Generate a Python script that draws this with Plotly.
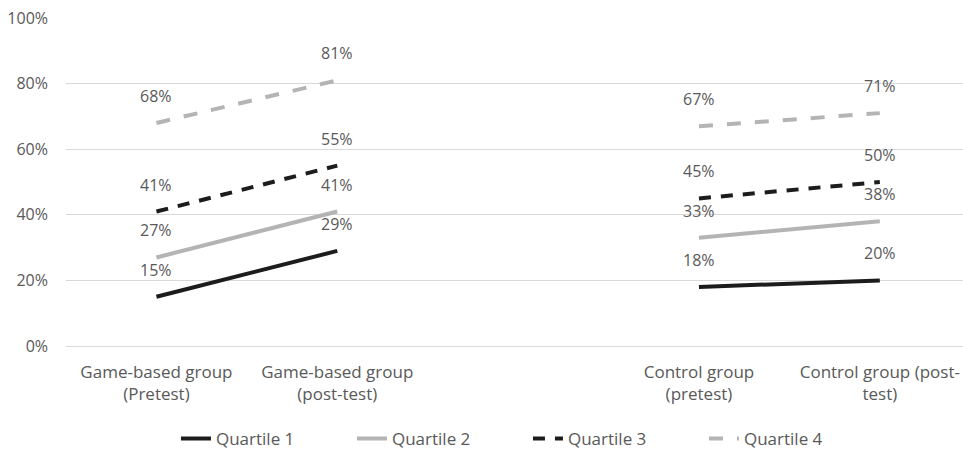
import plotly.graph_objects as go

categories = ["Game-based group<br>(Pretest)", "Game-based group<br>(post-test)", "",
              "Control group<br>(pretest)", "Control group (post-<br>test)"]
x_idx = [0, 1, 2, 3, 4]
q1 = [0.15, 0.29, None, 0.18, 0.20]
q2 = [0.27, 0.41, None, 0.33, 0.38]
q3 = [0.41, 0.55, None, 0.45, 0.50]
q4 = [0.68, 0.81, None, 0.67, 0.71]
series_names = ["Quartile 1", "Quartile 2", "Quartile 3", "Quartile 4"]
y_ticks = [0, 0.2, 0.4, 0.6, 0.8, 1.0]

styles = [
    dict(color="#1c1c1c", width=4, dash="solid"),
    dict(color="#b4b4b4", width=4, dash="solid"),
    dict(color="#1c1c1c", width=4, dash="12px,10px"),
    dict(color="#b4b4b4", width=4, dash="14px,14px"),
]

FONT = "Open Sans, sans-serif"
TXT = "#595959"

fig = go.Figure()
annotations = []
for name, vals, st in zip(series_names, [q1, q2, q3, q4], styles):
    fig.add_trace(go.Scatter(x=x_idx, y=vals, mode="lines", name=name,
                             line=st, connectgaps=False, hoverinfo="skip"))
    for xi, v in zip(x_idx, vals):
        if v is None:
            continue
        annotations.append(dict(x=xi, y=v, xref="x", yref="y", text=f"{round(v*100)}%",
                                showarrow=False, yshift=27,
                                font=dict(family=FONT, size=16, color=TXT)))

fig.update_layout(
    width=963, height=451,
    margin=dict(l=66, r=0, t=18, b=105, autoexpand=False),
    paper_bgcolor="white", plot_bgcolor="white",
    font=dict(family=FONT, size=16, color=TXT),
    annotations=annotations,
    showlegend=True,
    legend=dict(orientation="h", x=0.515, xanchor="center", y=-0.338, yanchor="bottom",
                font=dict(family=FONT, size=17, color=TXT), entrywidth=131,
                traceorder="normal"),
    xaxis=dict(range=[-0.5, 4.46], tickmode="array", tickvals=x_idx, ticktext=categories,
               showgrid=False, zeroline=False, showline=False, ticks="",
               ticklabelstandoff=14, automargin=False,
               tickfont=dict(family=FONT, size=17, color=TXT), fixedrange=True),
    yaxis=dict(range=[0, 1.0], tickmode="array", tickvals=y_ticks, tickformat=".0%",
               showgrid=True, gridcolor="#d9d9d9", gridwidth=1,
               zeroline=True, zerolinecolor="#d9d9d9", zerolinewidth=1,
               showline=False, ticks="", ticklabelstandoff=17, automargin=False,
               tickfont=dict(family=FONT, size=16, color=TXT), fixedrange=True),
)
fig.write_html("out.html")
